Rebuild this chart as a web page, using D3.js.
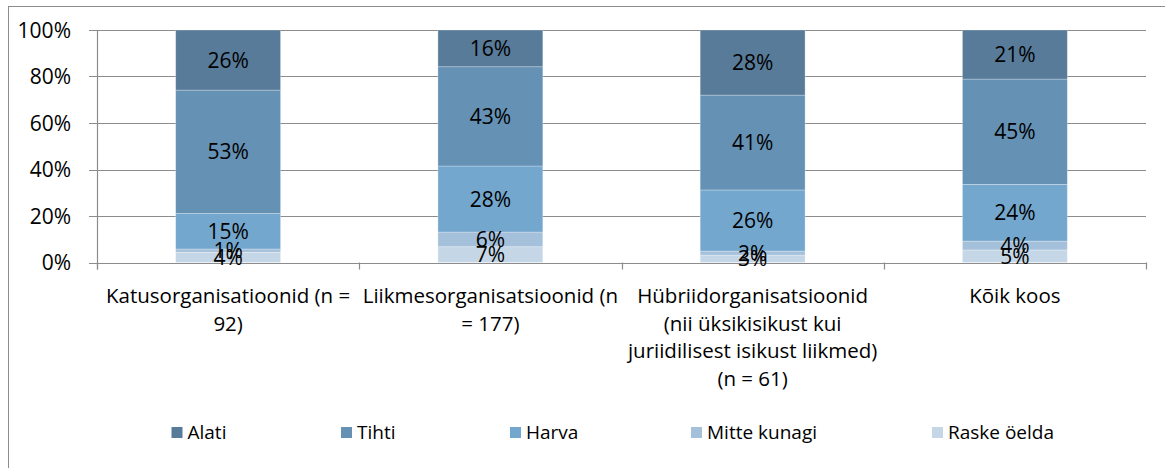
<!DOCTYPE html>
<html><head><meta charset="utf-8">
<script src="https://cdn.jsdelivr.net/npm/d3@7"></script>
<style>
html,body{margin:0;padding:0;background:#fff;}
svg{display:block;font-family:"Open Sans","Noto Sans",sans-serif;}
</style></head>
<body>
<svg id="chart" width="1165" height="468"></svg>
<script>
const categories = [
  ["Katusorganisatioonid (n =", "92)"],
  ["Liikmesorganisatsioonid (n", "= 177)"],
  ["Hübriidorganisatsioonid", "(nii üksikisikust kui", "juriidilisest isikust liikmed)", "(n = 61)"],
  ["Kõik koos"]
];
const seriesNames = ["Raske öelda", "Mitte kunagi", "Harva", "Tihti", "Alati"];
const raskeOelda  = [4.4, 6.8, 3.2, 5.4];
const mitteKunagi = [1.4, 6.3, 1.7, 3.8];
const harva       = [15.2, 28.4, 26.3, 24.4];
const tihti       = [53.0, 42.7, 40.8, 45.3];
const alati       = [25.8, 15.8, 28.0, 21.1];
const yTicks = [0, 0.2, 0.4, 0.6, 0.8, 1.0];
const colors = ["#c5d7e6", "#a5c0da", "#74a7cd", "#6491b4", "#587b99"];
const legendOrder = ["Alati", "Tihti", "Harva", "Mitte kunagi", "Raske öelda"];

(function () {
const seriesValues = [raskeOelda, mitteKunagi, harva, tihti, alati];
const rows = categories.map((c, i) => {
  const r = {cat: i};
  seriesNames.forEach((s, k) => r[s] = seriesValues[k][i]);
  return r;
});
const stacked = d3.stack().keys(seriesNames).offset(d3.stackOffsetExpand)(rows);

const svg = d3.select("#chart");
const pLeft = 97, pRight = 1146, pTop = 30, pBottom = 262.5;

// frame
svg.append("rect").attr("x", 8.5).attr("y", 6.5).attr("width", 1200).attr("height", 500)
  .attr("fill", "none").attr("stroke", "#8c8c8c").attr("stroke-width", 1);

const x = d3.scaleBand().domain(d3.range(categories.length)).range([pLeft, pRight])
  .paddingInner(0.6).paddingOuter(0.3);
const step = (pRight - pLeft) / categories.length;
const y = d3.scaleLinear().domain([0, 1]).range([pBottom, pTop]);
const color = d3.scaleOrdinal().domain(seriesNames).range(colors);

// gridlines
svg.append("g").selectAll("line").data(yTicks).join("line")
  .attr("x1", pLeft - 8).attr("x2", pRight)
  .attr("y1", d => Math.round(y(d)) + 0.5).attr("y2", d => Math.round(y(d)) + 0.5)
  .attr("stroke", "#8c8c8c").attr("stroke-width", 1.2);

// y labels
svg.append("g").selectAll("text").data(yTicks).join("text")
  .attr("x", 71).attr("y", d => y(d)).attr("dy", "0.36em")
  .attr("text-anchor", "end").attr("font-size", 21).attr("fill", "#000")
  .text(d => d3.format(".0%")(d));

// y axis line
svg.append("line").attr("x1", pLeft + 0.5).attr("x2", pLeft + 0.5)
  .attr("y1", pTop).attr("y2", pBottom + 7).attr("stroke", "#8c8c8c").attr("stroke-width", 1.2);
// category ticks
svg.append("g").selectAll("line").data(d3.range(categories.length + 1)).join("line")
  .attr("x1", d => Math.round(pLeft + d * step) + 0.5).attr("x2", d => Math.round(pLeft + d * step) + 0.5)
  .attr("y1", pBottom).attr("y2", pBottom + 7).attr("stroke", "#8c8c8c").attr("stroke-width", 1.2);

// bars
const layers = svg.append("g").selectAll("g").data(stacked).join("g")
  .attr("fill", d => color(d.key));
layers.selectAll("rect").data(d => d).join("rect")
  .attr("x", d => x(d.data.cat)).attr("width", x.bandwidth())
  .attr("y", d => y(d[1])).attr("height", d => y(d[0]) - y(d[1]))
  .attr("stroke", "rgba(255,255,255,0.35)").attr("stroke-width", 0.8);

// data labels
const lbl = svg.append("g");
stacked.forEach(layer => {
  lbl.append("g").selectAll("text").data(layer).join("text")
    .attr("x", d => x(d.data.cat) + x.bandwidth() / 2)
    .attr("y", d => (y(d[0]) + y(d[1])) / 2).attr("dy", "0.36em")
    .attr("text-anchor", "middle").attr("font-size", 21).attr("fill", "#000")
    .text(d => Math.round(d.data[layer.key]) + "%");
});

// category labels
const cl = svg.append("g").selectAll("text").data(categories).join("text")
  .attr("text-anchor", "middle").attr("font-size", 20.5).attr("fill", "#000");
cl.selectAll("tspan").data((d, i) => d.map(t => ({t, i}))).join("tspan")
  .attr("x", d => x(d.i) + x.bandwidth() / 2)
  .attr("y", (d, j) => 303 + j * 27.5)
  .text(d => d.t);

// legend
const legX = [171.5, 341, 510, 691, 932];
const lg = svg.append("g").selectAll("g").data(legendOrder).join("g")
  .attr("transform", (d, i) => `translate(${legX[i]},427)`);
lg.append("rect").attr("width", 11).attr("height", 11).attr("fill", d => color(d));
lg.append("text").attr("x", 16).attr("y", 5.5).attr("dy", "0.36em")
  .attr("font-size", 19).attr("fill", "#000").text(d => d);
})();
</script>
</body></html>
